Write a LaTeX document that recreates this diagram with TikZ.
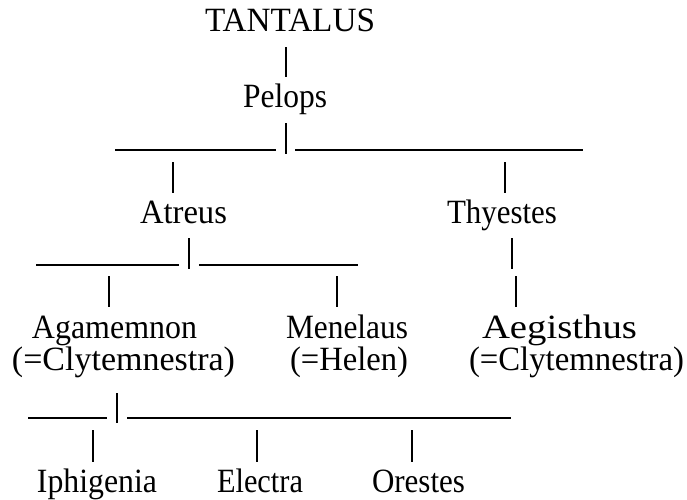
\documentclass[tikz,border=0pt]{standalone}
\usepackage{fontspec}
\setmainfont{Liberation Serif}
\newcommand\fitx[2]{\resizebox{#1pt}{\height}{#2}}
\begin{document}
\begin{tikzpicture}[x=1pt,y=-1pt,
  lbl/.style={anchor=base, inner sep=0pt, font=\fontsize{34}{40}\selectfont},
  bar/.style={line width=1.2pt, line cap=butt}]
\useasboundingbox (0,0) rectangle (687,499);
% names
\node[lbl] (tantalus)  at (290,31)    {\fitx{170}{TANTALUS}};
\node[lbl] (pelops)    at (285,107)   {\fitx{84}{Pelops}};
\node[lbl] (atreus)    at (183.5,223) {\fitx{87}{Atreus}};
\node[lbl] (thyestes)  at (502,223)   {\fitx{110}{Thyestes}};
\node[lbl] (agamemnon) at (114.5,338) {\fitx{165}{Agamemnon}};
\node[lbl] (menelaus)  at (347,338)   {\fitx{122}{Menelaus}};
\node[lbl] (aegisthus) at (559.5,338) {\fitx{155}{Aegisthus}};
\node[lbl] (clyA)      at (123.5,370) {\fitx{223}{(=Clytemnestra)}};
\node[lbl] (helen)     at (349,370)   {\fitx{118}{(=Helen)}};
\node[lbl] (clyB)      at (576.5,370) {\fitx{215}{(=Clytemnestra)}};
\node[lbl] (iphigenia) at (97,492)    {\fitx{120}{Iphigenia}};
\node[lbl] (electra)   at (260,492)   {\fitx{86}{Electra}};
\node[lbl] (orestes)   at (418.5,492) {\fitx{93}{Orestes}};
% connector points
\coordinate (a1) at (286,47);  \coordinate (a2) at (286,77);
\coordinate (b1) at (286,123); \coordinate (b2) at (286,154);
\coordinate (h1a) at (115,150); \coordinate (h1b) at (276,150);
\coordinate (h1c) at (295,150); \coordinate (h1d) at (583,150);
\coordinate (c1) at (173,162); \coordinate (c2) at (173,193);
\coordinate (d1) at (505,162); \coordinate (d2) at (505,193);
\coordinate (e1) at (189,238); \coordinate (e2) at (189,269);
\coordinate (h2a) at (36,265);  \coordinate (h2b) at (179,265);
\coordinate (h2c) at (199,265); \coordinate (h2d) at (358,265);
\coordinate (f1) at (109,276); \coordinate (f2) at (109,307);
\coordinate (g1) at (337,276); \coordinate (g2) at (337,307);
\coordinate (t1) at (512,238); \coordinate (t2) at (512,269);
\coordinate (u1) at (516,276); \coordinate (u2) at (516,307);
\coordinate (k1) at (117,393); \coordinate (k2) at (117,423);
\coordinate (h3a) at (28,418);  \coordinate (h3b) at (107,418);
\coordinate (h3c) at (127,418); \coordinate (h3d) at (511,418);
\coordinate (m1) at (93,430);  \coordinate (m2) at (93,462);
\coordinate (n1) at (257,430); \coordinate (n2) at (257,462);
\coordinate (o1) at (412,430); \coordinate (o2) at (412,462);
% connectors
\foreach \p/\q in {a1/a2,b1/b2,h1a/h1b,h1c/h1d,c1/c2,d1/d2,e1/e2,h2a/h2b,h2c/h2d,
  f1/f2,g1/g2,t1/t2,u1/u2,k1/k2,h3a/h3b,h3c/h3d,m1/m2,n1/n2,o1/o2}
  \draw[bar] (\p) -- (\q);
\end{tikzpicture}
\end{document}
